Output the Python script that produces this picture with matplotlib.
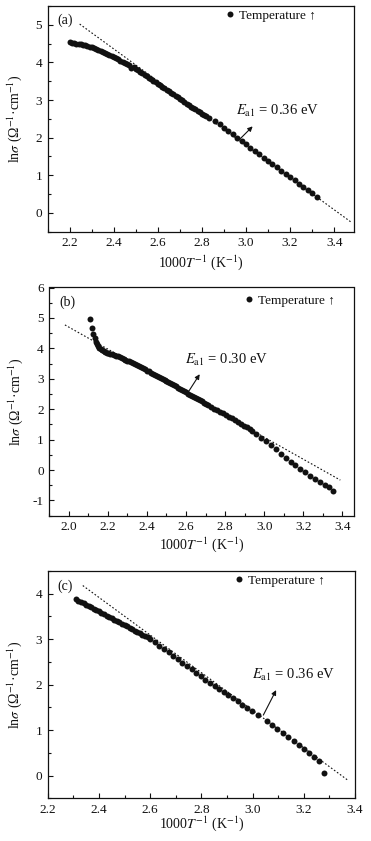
import matplotlib
matplotlib.use("Agg")
import matplotlib.pyplot as plt
from matplotlib.ticker import MultipleLocator
from matplotlib.lines import Line2D

plt.rcParams['font.family'] = ['Liberation Serif', 'DejaVu Serif']
plt.rcParams['mathtext.fontset'] = 'stix'
plt.rcParams['axes.unicode_minus'] = True

# ---------------- data ----------------
# panel (a)
xa = [2.20, 2.21, 2.22, 2.23, 2.24, 2.25, 2.26, 2.27, 2.28, 2.29,
      2.30, 2.31, 2.32, 2.33, 2.34, 2.35, 2.36, 2.37, 2.38, 2.39,
      2.40, 2.41, 2.42, 2.43, 2.44, 2.45, 2.46, 2.47, 2.48, 2.49,
      2.50, 2.51, 2.52, 2.53, 2.54, 2.55, 2.56, 2.57, 2.58, 2.59,
      2.60, 2.61, 2.62, 2.63, 2.64, 2.65, 2.66, 2.67, 2.68, 2.69,
      2.70, 2.71, 2.72, 2.73, 2.74, 2.75, 2.76, 2.77, 2.78, 2.79,
      2.80, 2.81, 2.82, 2.83,
      2.86, 2.88, 2.90, 2.92, 2.94, 2.96, 2.98, 3.00, 3.02, 3.04,
      3.06, 3.08, 3.10, 3.12, 3.14, 3.16, 3.18, 3.20, 3.22, 3.24,
      3.26, 3.28, 3.30, 3.32]
ya = [4.53, 4.52, 4.51, 4.50, 4.49, 4.48, 4.47, 4.45, 4.44, 4.42,
      4.40, 4.38, 4.36, 4.33, 4.31, 4.28, 4.25, 4.23, 4.20, 4.17,
      4.14, 4.11, 4.08, 4.05, 4.02, 3.99, 3.96, 3.93, 3.86, 3.87,
      3.82, 3.79, 3.75, 3.71, 3.67, 3.63, 3.59, 3.55, 3.51, 3.47,
      3.43, 3.39, 3.35, 3.31, 3.27, 3.23, 3.19, 3.15, 3.11, 3.07,
      3.03, 2.99, 2.95, 2.90, 2.86, 2.82, 2.78, 2.75, 2.71, 2.68,
      2.64, 2.61, 2.57, 2.52,
      2.43, 2.35, 2.26, 2.17, 2.09, 2.00, 1.91, 1.82, 1.73, 1.64,
      1.56, 1.47, 1.38, 1.30, 1.21, 1.12, 1.04, 0.95, 0.87, 0.78,
      0.69, 0.61, 0.52, 0.43]
fit_a_x = [2.245, 3.478]
fit_a_y = [5.02, -0.25]

# panel (b)
xb = [2.110, 2.119, 2.126, 2.132, 2.138, 2.144, 2.150, 2.156, 2.163, 2.170,
      2.178, 2.186, 2.194, 2.202,
      2.21, 2.22, 2.23, 2.24, 2.25, 2.26, 2.27, 2.28, 2.29, 2.30,
      2.31, 2.32, 2.33, 2.34, 2.35, 2.36, 2.37, 2.38, 2.39, 2.40,
      2.41, 2.42, 2.43, 2.44, 2.45, 2.46, 2.47, 2.48, 2.49, 2.50,
      2.51, 2.52, 2.53, 2.54, 2.55, 2.56, 2.57, 2.58, 2.59, 2.60,
      2.61, 2.62, 2.63, 2.64, 2.65, 2.66, 2.67, 2.68, 2.69, 2.70,
      2.715, 2.730, 2.745, 2.760, 2.775, 2.790, 2.805, 2.820, 2.835, 2.850,
      2.865, 2.880, 2.895, 2.910, 2.925, 2.940,
      2.96, 2.985, 3.01, 3.035, 3.06, 3.085, 3.11, 3.135, 3.16, 3.185,
      3.21, 3.235, 3.26, 3.285, 3.31, 3.33, 3.35]
yb = [4.98, 4.66, 4.48, 4.33, 4.22, 4.14, 4.07, 4.02, 3.98, 3.94,
      3.91, 3.88, 3.86, 3.84,
      3.82, 3.80, 3.78, 3.76, 3.74, 3.71, 3.69, 3.66, 3.63, 3.60,
      3.57, 3.54, 3.51, 3.48, 3.45, 3.41, 3.38, 3.34, 3.31, 3.27,
      3.24, 3.20, 3.17, 3.13, 3.10, 3.06, 3.03, 2.99, 2.96, 2.92,
      2.89, 2.85, 2.82, 2.78, 2.75, 2.71, 2.68, 2.64, 2.61, 2.57,
      2.50, 2.47, 2.43, 2.40, 2.36, 2.33, 2.29, 2.26, 2.22, 2.18,
      2.13, 2.08, 2.02, 1.97, 1.92, 1.86, 1.81, 1.75, 1.70, 1.64,
      1.58, 1.52, 1.46, 1.40, 1.34, 1.27,
      1.18, 1.07, 0.95, 0.82, 0.68, 0.53, 0.40, 0.27, 0.15, 0.04,
      -0.07, -0.18, -0.28, -0.38, -0.48, -0.57, -0.70]
fit_b_x = [1.98, 3.39]
fit_b_y = [4.77, -0.33]

# panel (c)
xc = [2.31, 2.32, 2.33, 2.34, 2.35, 2.36, 2.37, 2.38, 2.39, 2.40,
      2.41, 2.42, 2.43, 2.44, 2.45, 2.46, 2.47, 2.48, 2.49, 2.50,
      2.51, 2.52, 2.53, 2.54, 2.55, 2.56, 2.57, 2.58, 2.59, 2.60,
      2.618, 2.636, 2.654, 2.672, 2.690, 2.708, 2.726, 2.744, 2.762, 2.780,
      2.798, 2.816, 2.834, 2.852, 2.870, 2.888, 2.906, 2.924, 2.942, 2.960,
      2.978, 2.996, 3.023,
      3.055, 3.076, 3.097, 3.118, 3.139, 3.160, 3.181, 3.202, 3.222, 3.240,
      3.258, 3.279]
yc = [3.88, 3.85, 3.82, 3.79, 3.76, 3.73, 3.70, 3.67, 3.64, 3.61,
      3.58, 3.55, 3.52, 3.49, 3.46, 3.43, 3.40, 3.37, 3.34, 3.31,
      3.28, 3.25, 3.22, 3.19, 3.16, 3.13, 3.10, 3.07, 3.04, 3.01,
      2.93, 2.86, 2.78, 2.71, 2.63, 2.56, 2.48, 2.41, 2.34, 2.26,
      2.19, 2.11, 2.04, 1.98, 1.91, 1.84, 1.77, 1.70, 1.63, 1.56,
      1.49, 1.42, 1.33,
      1.20, 1.11, 1.02, 0.94, 0.85, 0.77, 0.68, 0.59, 0.50, 0.41,
      0.31, 0.05]
fit_c_x = [2.337, 3.374]
fit_c_y = [4.18, -0.11]

panel_labels = ['(a)', '(b)', '(c)']
ea_texts = [r'$E_{\rm a1}$ = 0.36 eV', r'$E_{\rm a1}$ = 0.30 eV', r'$E_{\rm a1}$ = 0.36 eV']
legend_text = 'Temperature \u2191'

# ---------------- layout ----------------
W, H = 371, 841
fig = plt.figure(figsize=(W / 100, H / 100), dpi=100)

def rect(l, r, t, b):
    return [l / W, 1 - b / H, (r - l) / W, (b - t) / H]

axes_rects = [rect(47.7, 354, 6, 231.7), rect(49.3, 354, 287.5, 515.7), rect(47.7, 355, 571, 798.3)]
xlims = [(2.1, 3.49), (1.9, 3.46), (2.2, 3.4)]
ylims = [(-0.5, 5.5), (-1.5, 6.0), (-0.5, 4.5)]
xmaj = [0.2, 0.2, 0.2]
ymaj = [1, 1, 1]
datasets = [(xa, ya), (xb, yb), (xc, yc)]
fits = [(fit_a_x, fit_a_y), (fit_b_x, fit_b_y), (fit_c_x, fit_c_y)]
ann_text_pos = [(2.955, 2.70), (2.596, 3.62), (2.997, 2.21)]
ann_tail = [(2.97, 1.95), (2.613, 2.58), (3.042, 1.33)]
ann_head = [(3.03, 2.30), (2.67, 3.15), (3.092, 1.88)]
leg_pos = [(0.58, 0.957), (0.641, 0.942), (0.609, 0.957)]
xlabel_y = [-0.135, -0.128, -0.112]
ylabel_x = [-0.107, -0.112, -0.107]

col = '#111111'
ms = 4.3
for i in range(3):
    ax = fig.add_axes(axes_rects[i])
    x, y = datasets[i]
    ax.plot(x, y, 'o', color=col, ms=ms, mew=0, zorder=3)
    fx, fy = fits[i]
    ax.plot(fx, fy, color=col, lw=0.8, dashes=(1.5, 1.8), zorder=2)
    ax.set_xlim(*xlims[i])
    ax.set_ylim(*ylims[i])
    ax.xaxis.set_major_locator(MultipleLocator(xmaj[i]))
    ax.xaxis.set_minor_locator(MultipleLocator(xmaj[i] / 2))
    ax.yaxis.set_major_locator(MultipleLocator(ymaj[i]))
    ax.yaxis.set_minor_locator(MultipleLocator(ymaj[i] / 2))
    ax.xaxis.set_major_formatter(matplotlib.ticker.FormatStrFormatter('%.1f'))
    ax.yaxis.set_major_formatter(matplotlib.ticker.FormatStrFormatter('%d'))
    ax.tick_params(which='both', direction='in', top=False, right=False,
                   labelsize=9.5, colors=col, width=0.8)
    ax.tick_params(which='major', length=3.5, pad=4)
    ax.tick_params(which='minor', length=2)
    for s in ax.spines.values():
        s.set_linewidth(0.9)
        s.set_color(col)
    ax.set_xlabel(r'1000$T^{-1}$ (K$^{-1}$)', fontsize=10, color=col)
    ax.set_ylabel(r'ln$\sigma$ (Ω$^{-1}$·cm$^{-1}$)', fontsize=10, color=col)
    ax.xaxis.set_label_coords(0.5, xlabel_y[i])
    ax.xaxis.label.set_va('center')
    ax.yaxis.set_label_coords(ylabel_x[i], 0.5)
    ax.yaxis.label.set_va('center')
    ax.text(0.033, 0.935, panel_labels[i], transform=ax.transAxes, fontsize=10,
            ha='left', va='center', color=col)
    tx, ty = ann_text_pos[i]
    ax.text(tx, ty, ea_texts[i], fontsize=10.5, ha='left', va='center', color=col)
    ax.annotate('', xy=ann_head[i], xytext=ann_tail[i],
                arrowprops=dict(arrowstyle='-|>', lw=0.8, color=col,
                                mutation_scale=7, shrinkA=0, shrinkB=0))
    h = Line2D([], [], ls='none', marker='o', color=col, ms=ms, mew=0)
    ax.legend([h], [legend_text], loc='center left', bbox_to_anchor=leg_pos[i],
              frameon=False, handlelength=0.7, handletextpad=0.3, borderpad=0,
              borderaxespad=0, fontsize=9.5, labelcolor=col)

fig.savefig('out.png', dpi=100)
